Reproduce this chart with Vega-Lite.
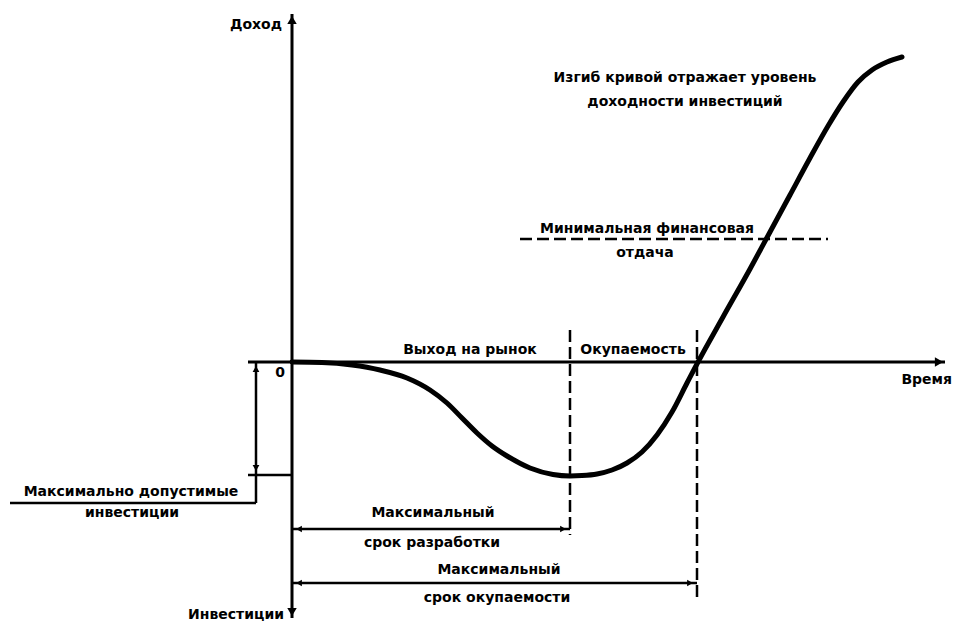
{
  "$schema": "https://vega.github.io/schema/vega-lite/v6.json",
  "width": 955,
  "height": 627,
  "padding": 0,
  "autosize": "none",
  "background": "white",
  "config": {"view": {"stroke": null}},
  "datasets": {
    "curve": [
      {"t": 0, "v": 0}, {"t": 30, "v": -0.5}, {"t": 60, "v": -3}, {"t": 88, "v": -8},
      {"t": 115, "v": -16}, {"t": 138, "v": -28}, {"t": 155, "v": -41}, {"t": 170, "v": -56},
      {"t": 185, "v": -71}, {"t": 200, "v": -84}, {"t": 215, "v": -94}, {"t": 238, "v": -106},
      {"t": 261, "v": -112.5}, {"t": 278, "v": -114}, {"t": 290, "v": -113.6}, {"t": 305, "v": -112},
      {"t": 320, "v": -108}, {"t": 335, "v": -101}, {"t": 350, "v": -90}, {"t": 365, "v": -73},
      {"t": 380, "v": -50}, {"t": 395, "v": -21}, {"t": 406, "v": 0}, {"t": 431, "v": 45},
      {"t": 458, "v": 93}, {"t": 478, "v": 130}, {"t": 498, "v": 167}, {"t": 518, "v": 204},
      {"t": 536, "v": 236}, {"t": 551, "v": 260}, {"t": 566, "v": 280}, {"t": 580, "v": 292},
      {"t": 595, "v": 300}, {"t": 610, "v": 305}
    ],
    "axes": [
      {"t1": 0, "v1": 348, "t2": 0, "v2": -256},
      {"t1": -44, "v1": 0, "t2": 653, "v2": 0}
    ],
    "guides": [
      {"t1": -36, "v1": 0, "t2": -36, "v2": -141},
      {"t1": -44, "v1": -113, "t2": 0, "v2": -113},
      {"t1": -282, "v1": -141, "t2": -36, "v2": -141},
      {"t1": 0, "v1": -167, "t2": 278, "v2": -167},
      {"t1": 0, "v1": -221, "t2": 405, "v2": -221}
    ],
    "dashed": [
      {"t1": 278, "v1": 32, "t2": 278, "v2": -173},
      {"t1": 405, "v1": 32, "t2": 405, "v2": -236},
      {"t1": 228, "v1": 123, "t2": 536, "v2": 123}
    ],
    "bigArrows": [
      {"t": 0, "v": 342, "dir": "up"},
      {"t": 0, "v": -250, "dir": "down"},
      {"t": 647, "v": 0, "dir": "right"}
    ],
    "smallArrows": [
      {"t": -36, "v": -7, "dir": "up"},
      {"t": -36, "v": -106, "dir": "down"},
      {"t": 7, "v": -167, "dir": "left"},
      {"t": 271, "v": -167, "dir": "right"},
      {"t": 7, "v": -221, "dir": "left"},
      {"t": 398, "v": -221, "dir": "right"}
    ],
    "centerText": [
      {"t": 393, "v": 284, "label": "Изгиб кривой отражает уровень"},
      {"t": 393, "v": 260, "label": "доходности инвестиций"},
      {"t": 355, "v": 133, "label": "Минимальная финансовая"},
      {"t": 353, "v": 109, "label": "отдача"},
      {"t": 178, "v": 12, "label": "Выход на рынок"},
      {"t": 341, "v": 12, "label": "Окупаемость"},
      {"t": -161, "v": -130, "label": "Максимально допустимые"},
      {"t": -160, "v": -151, "label": "инвестиции"},
      {"t": 141, "v": -151, "label": "Максимальный"},
      {"t": 140, "v": -181, "label": "срок разработки"},
      {"t": 207, "v": -208, "label": "Максимальный"},
      {"t": 205, "v": -236, "label": "срок окупаемости"}
    ],
    "rightText": [
      {"t": -10, "v": 337, "label": "Доход"},
      {"t": -7, "v": -11, "label": "0"},
      {"t": -8, "v": -253, "label": "Инвестиции"},
      {"t": 660, "v": -18, "label": "Время"}
    ]
  },
  "layer": [
    {
      "data": {"name": "axes"},
      "mark": {"type": "rule", "strokeWidth": 3, "color": "black"},
      "encoding": {
        "x": {"field": "t1", "type": "quantitative", "scale": {"domain": [-292, 663], "nice": false, "zero": false}, "axis": null},
        "x2": {"field": "t2"},
        "y": {"field": "v1", "type": "quantitative", "scale": {"domain": [-265, 362], "nice": false, "zero": false}, "axis": null},
        "y2": {"field": "v2"}
      }
    },
    {
      "data": {"name": "guides"},
      "mark": {"type": "rule", "strokeWidth": 2.5, "color": "black"},
      "encoding": {
        "x": {"field": "t1", "type": "quantitative"},
        "x2": {"field": "t2"},
        "y": {"field": "v1", "type": "quantitative"},
        "y2": {"field": "v2"}
      }
    },
    {
      "data": {"name": "dashed"},
      "mark": {"type": "rule", "strokeWidth": 2.5, "color": "black", "strokeDash": [12, 5]},
      "encoding": {
        "x": {"field": "t1", "type": "quantitative"},
        "x2": {"field": "t2"},
        "y": {"field": "v1", "type": "quantitative"},
        "y2": {"field": "v2"}
      }
    },
    {
      "data": {"name": "curve"},
      "mark": {"type": "line", "strokeWidth": 5, "color": "black", "interpolate": "monotone", "strokeCap": "round"},
      "encoding": {
        "x": {"field": "t", "type": "quantitative"},
        "y": {"field": "v", "type": "quantitative"},
        "order": {"field": "t"}
      }
    },
    {
      "data": {"name": "bigArrows"},
      "mark": {"type": "point", "filled": true, "color": "black", "size": 90, "opacity": 1},
      "encoding": {
        "x": {"field": "t", "type": "quantitative"},
        "y": {"field": "v", "type": "quantitative"},
        "shape": {"field": "dir", "type": "nominal", "legend": null,
          "scale": {"domain": ["up", "down", "left", "right"], "range": ["triangle-up", "triangle-down", "triangle-left", "triangle-right"]}}
      }
    },
    {
      "data": {"name": "smallArrows"},
      "mark": {"type": "point", "filled": true, "color": "black", "size": 45, "opacity": 1},
      "encoding": {
        "x": {"field": "t", "type": "quantitative"},
        "y": {"field": "v", "type": "quantitative"},
        "shape": {"field": "dir", "type": "nominal", "legend": null}
      }
    },
    {
      "data": {"name": "centerText"},
      "mark": {"type": "text", "font": "DejaVu Sans", "fontWeight": "bold", "fontSize": 14, "align": "center", "baseline": "middle", "color": "black"},
      "encoding": {
        "x": {"field": "t", "type": "quantitative"},
        "y": {"field": "v", "type": "quantitative"},
        "text": {"field": "label"}
      }
    },
    {
      "data": {"name": "rightText"},
      "mark": {"type": "text", "font": "DejaVu Sans", "fontWeight": "bold", "fontSize": 14, "align": "right", "baseline": "middle", "color": "black"},
      "encoding": {
        "x": {"field": "t", "type": "quantitative"},
        "y": {"field": "v", "type": "quantitative"},
        "text": {"field": "label"}
      }
    }
  ]
}
